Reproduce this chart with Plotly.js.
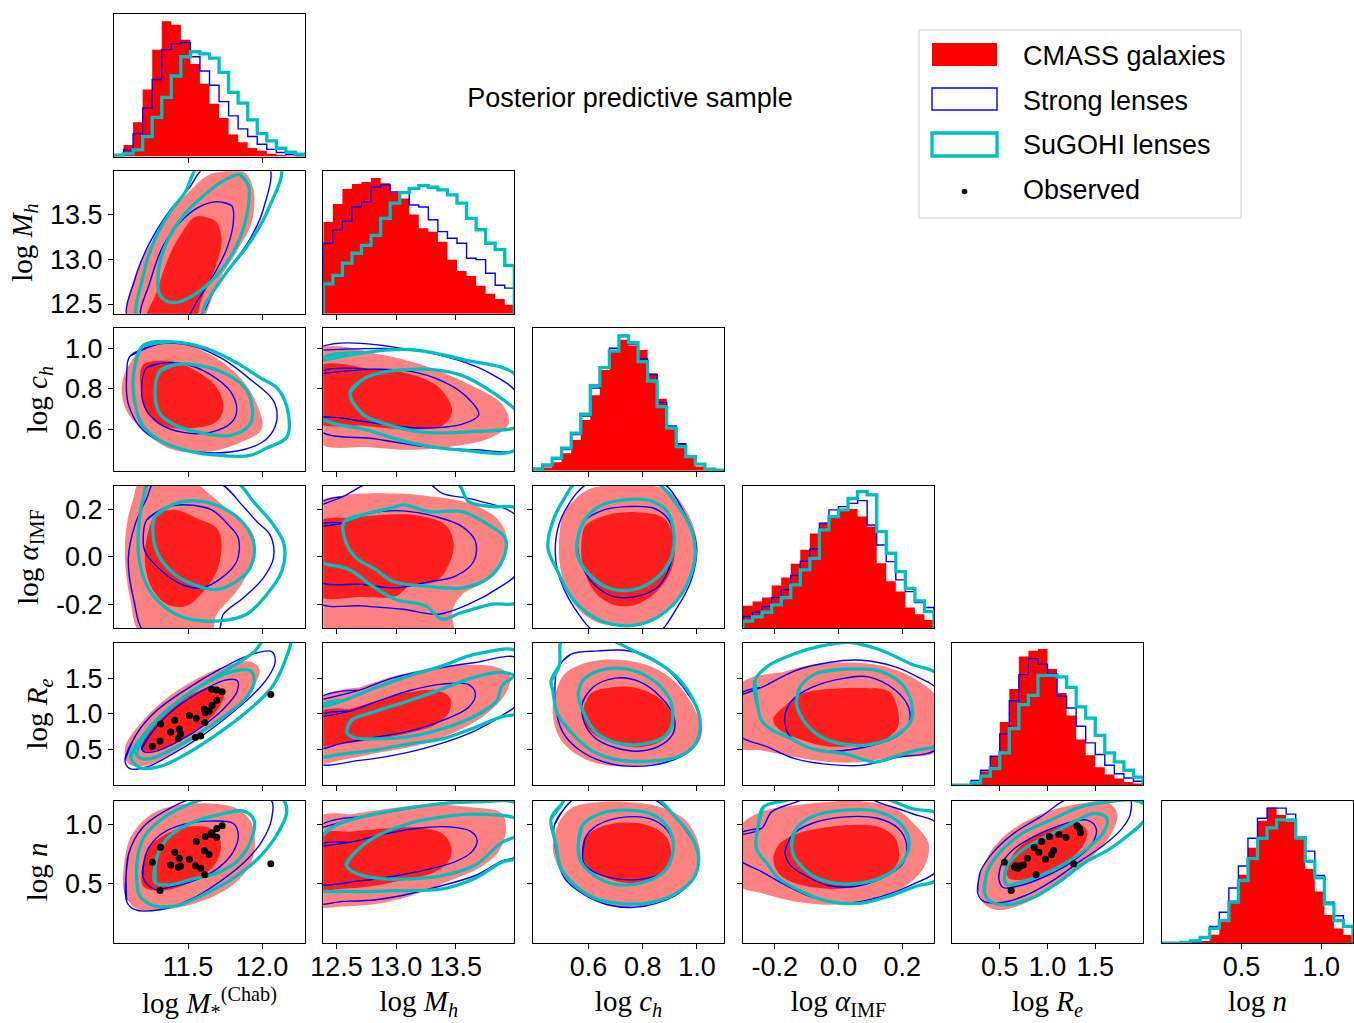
<!DOCTYPE html>
<html><head><meta charset="utf-8">
<script src="https://cdn.plot.ly/plotly-3.0.1.min.js"></script>
<style>html,body{margin:0;padding:0;background:#fff}</style>
</head><body><div id="chart" style="width:1354px;height:1023px"></div>
<script>
// ---------------- DATA ----------------
const paramKeys = ['mstar','mh','ch','alpha','re','n'];
const paramLabels = ['log <i>M</i><sub>*</sub><sup>(Chab)</sup>','log <i>M<sub>h</sub></i>','log <i>c<sub>h</sub></i>','log <i>α</i><sub>IMF</sub>','log <i>R<sub>e</sub></i>','log <i>n</i>'];
const sampleNames = ['CMASS galaxies','Strong lenses','SuGOHI lenses','Observed'];

// tick values / labels per parameter
const ticks_mstar = [11.5, 12.0], tickText_mstar = ['11.5','12.0'];
const ticks_mh = [12.5, 13.0, 13.5], tickText_mh = ['12.5','13.0','13.5'];
const ticks_ch = [0.6, 0.8, 1.0], tickText_ch = ['0.6','0.8','1.0'];
const ticks_alpha = [-0.2, 0.0, 0.2], tickText_alpha = ['-0.2','0.0','0.2'];
const ticks_re = [0.5, 1.0, 1.5], tickText_re = ['0.5','1.0','1.5'];
const ticks_n = [0.5, 1.0], tickText_n = ['0.5','1.0'];

// histogram ranges (20 bins each over the plotted range)
const range_mstar = [11.0, 12.29];
const range_mh = [12.39, 13.99];
const range_ch = [0.395, 1.10];
const range_alpha = [-0.3, 0.3];
const range_re = [0.0, 2.0];
const range_n = [0.0, 1.2];

// 1D histograms (relative heights, % of panel)
const hist_mstar_cmass  = [2,8,24,47,75,95,92.5,82,65,51,37,27,15.5,10,6,4,2,1,0.5,0.3];
const hist_mstar_strong = [0.7,4.7,16,34,54,75,79,80,70,60,50,38.5,28.5,19.4,14,8.6,5,2.8,1.4,0.7];
const hist_mstar_sugohi = [0.7,2,4.7,14,27.5,41.5,56.5,70,73.5,72,69,59,45,37.4,25.7,16,11,5.8,3,1.6];
const hist_mh_cmass  = [64.5,77,87.6,91,92.5,95.3,91.6,85,81,69.6,60,57.5,50.5,37.9,30,26.6,19.6,14,10.3,6.3];
const hist_mh_strong = [49.5,58.9,65,75,78.5,89,90.6,85.5,85,76.4,75,66,57.7,53,49.5,39,38,28.5,20,18];
const hist_mh_sugohi = [21,27,35.5,42.5,48,55,67,77.6,85,88,90,88.8,87,83.4,77.6,67,59,49.5,45,34];
const hist_ch_cmass  = [0,2.3,6,12.4,21.7,35.7,53,70.8,84,92,88,84.8,68.5,50.5,31,19.4,10,3,0.5,0];
const hist_ch_strong = [0.7,3.5,8.2,15,25.5,38.5,58,72,86,95,89,78.5,67.5,48,31.5,19,10.5,4.5,1.5,0.5];
const hist_ch_sugohi = [1.4,4.2,8.9,15.9,26.4,39.7,59.8,72.4,84,94.6,90,76.6,63,45,30,17,10,4.7,1.2,0.5];
const hist_alpha_cmass  = [15.7,18.7,21.5,30,35.5,45.3,55,66.4,74,78.5,83,83.6,78.3,71.3,45.6,33,25.7,14.5,9.8,5.8];
const hist_alpha_strong = [8.2,11.2,15.2,21.5,27,37,47,55.6,73.6,83,85.3,87.6,89.5,72.4,58.4,46.7,33.9,25.7,18,14.5];
const hist_alpha_sugohi = [5,8,11.2,16.4,21.5,30.4,40.9,49,69,78.3,83,91,95.8,93.5,67.8,52.6,39.7,28,19.2,11.7];
const hist_re_cmass  = [0,0,1,9.8,19.9,44.4,67.5,90.4,94.4,95.6,81.5,64.7,49,32,21,12.6,7.5,4.7,2.3,1.2];
const hist_re_strong = [0,0.2,3.3,10.5,20.3,36,59.3,77.6,88.8,85,78,62.4,54.2,41.4,29.7,21.5,14,8,5.1,2.8];
const hist_re_sugohi = [0,0,1.6,6.3,11.7,22.7,39.7,56.5,63,77,77,76,68.7,55,47,35,22.7,16.4,10.5,5.6];
const hist_n_cmass  = [0,0,0,0,1.5,6,17,30,48,67,86,95.3,90,85.4,73,52,36.3,19.8,10.4,5.7];
const hist_n_strong = [0,0,0,0.5,4,11.8,21.7,38.7,54.2,73.6,87.7,94.8,94.8,90.6,73.6,64.6,47.6,28.8,19.3,11.8];
const hist_n_sugohi = [0,0,0.5,1.6,4,10.4,15.8,28.8,44,59.4,73.6,81,86.6,86.6,74,57.5,45.8,27.6,15.8,11.8];

// observed lenses
const obs_mstar = [11.259,11.311,11.435,11.550,11.586,11.450,11.383,11.441,11.315,11.613,11.410,11.556,11.509,11.617,11.642,11.610,11.662,11.694,12.059,11.730,11.694,11.660];
const obs_re    = [0.548,0.620,0.655,0.668,0.690,0.717,0.747,0.790,0.860,0.880,0.910,0.940,0.978,1.020,1.042,1.065,1.120,1.192,1.274,1.310,1.335,1.345];
const obs_n     = [0.682,0.444,0.640,0.652,0.631,0.651,0.659,0.716,0.807,0.576,0.765,0.857,0.707,0.898,0.748,0.780,0.916,0.892,0.670,0.990,0.965,0.930];

// 2D contour outlines [x, y] (outer ~2 sigma, inner ~1 sigma)
const cont_mh_mstar = {
 cmassOuter:[[11.649,13.958],[11.874,13.984],[11.941,13.790],[11.930,13.418],[11.840,13.119],[11.716,12.784],[11.626,12.403],[11.581,12.224],[11.108,12.224],[11.086,12.448],[11.153,12.858],[11.266,13.231],[11.401,13.567],[11.514,13.772]],
 cmassInner:[[11.559,13.485],[11.682,13.436],[11.727,13.231],[11.682,12.896],[11.592,12.560],[11.536,12.299],[11.221,12.299],[11.288,12.635],[11.356,12.970],[11.446,13.268]],
 strongOuter:[[11.626,14.051],[12.043,14.051],[12.009,13.567],[11.919,13.231],[11.795,12.933],[11.671,12.635],[11.559,12.336],[11.097,12.336],[11.142,12.784],[11.243,13.194],[11.367,13.529],[11.502,13.790]],
 strongInner:[[11.694,13.649],[11.795,13.604],[11.806,13.418],[11.761,13.119],[11.671,12.821],[11.559,12.523],[11.480,12.336],[11.187,12.336],[11.243,12.746],[11.333,13.157],[11.446,13.418],[11.570,13.585]],
 sugohiOuter:[[11.581,14.051],[12.122,14.051],[12.043,13.567],[11.919,13.194],[11.761,12.858],[11.626,12.523],[11.559,12.299],[11.164,12.299],[11.198,12.821],[11.277,13.231],[11.378,13.529],[11.480,13.753]],
 sugohiInner:[[11.851,13.951],[11.908,13.828],[11.896,13.492],[11.818,13.119],[11.694,12.821],[11.536,12.597],[11.401,12.515],[11.311,12.597],[11.300,12.858],[11.356,13.194],[11.468,13.492],[11.604,13.716],[11.739,13.884]]
};
const cont_ch_mstar = {
 cmassOuter:[[11.221,1.016],[11.423,1.028],[11.649,0.970],[11.851,0.856],[11.964,0.725],[11.998,0.602],[11.829,0.528],[11.604,0.487],[11.378,0.504],[11.198,0.594],[11.074,0.708],[11.063,0.856]],
 cmassInner:[[11.198,0.921],[11.378,0.938],[11.559,0.888],[11.694,0.807],[11.739,0.708],[11.694,0.639],[11.536,0.607],[11.333,0.618],[11.221,0.684],[11.180,0.807]],
 strongOuter:[[11.108,0.962],[11.311,1.023],[11.536,1.011],[11.739,0.946],[11.919,0.848],[12.077,0.741],[12.099,0.643],[12.032,0.553],[11.874,0.499],[11.581,0.487],[11.378,0.520],[11.198,0.594],[11.097,0.725],[11.086,0.872]],
 strongInner:[[11.221,0.905],[11.345,0.929],[11.491,0.921],[11.649,0.872],[11.784,0.790],[11.829,0.700],[11.795,0.635],[11.649,0.585],[11.468,0.585],[11.311,0.626],[11.209,0.708],[11.187,0.815]],
 sugohiOuter:[[11.198,1.016],[11.401,1.033],[11.626,1.000],[11.829,0.929],[11.986,0.856],[12.110,0.798],[12.178,0.676],[12.167,0.561],[12.032,0.508],[11.919,0.471],[11.716,0.471],[11.491,0.495],[11.311,0.544],[11.187,0.626],[11.135,0.757],[11.135,0.888]],
 sugohiInner:[[11.311,0.888],[11.423,0.921],[11.559,0.918],[11.716,0.888],[11.874,0.815],[11.930,0.725],[11.919,0.626],[11.784,0.569],[11.581,0.585],[11.423,0.618],[11.311,0.676],[11.277,0.774]]
};
const cont_ch_mh = {
 cmassOuter:[[12.331,0.990],[12.831,0.974],[13.247,0.913],[13.608,0.823],[13.886,0.725],[13.942,0.626],[13.803,0.561],[13.525,0.520],[13.164,0.499],[12.775,0.512],[12.331,0.541]],
 cmassInner:[[12.331,0.908],[12.719,0.905],[13.108,0.875],[13.358,0.807],[13.469,0.692],[13.386,0.618],[13.053,0.602],[12.719,0.618],[12.331,0.639]],
 strongOuter:[[12.331,0.990],[13.108,0.995],[13.525,0.941],[13.803,0.872],[14.025,0.766],[14.025,0.508],[13.664,0.499],[13.247,0.515],[12.831,0.553],[12.331,0.607]],
 strongInner:[[12.331,0.872],[12.775,0.897],[13.108,0.888],[13.386,0.839],[13.581,0.766],[13.692,0.672],[13.553,0.626],[13.192,0.607],[12.831,0.630],[12.553,0.656],[12.331,0.679]],
 sugohiOuter:[[12.331,0.934],[12.719,0.979],[13.108,0.995],[13.553,0.946],[14.025,0.856],[14.025,0.508],[13.525,0.499],[13.108,0.536],[12.775,0.594],[12.331,0.676]],
 sugohiInner:[[12.614,0.782],[12.747,0.856],[13.108,0.897],[13.525,0.872],[13.831,0.774],[14.025,0.676],[14.025,0.618],[13.664,0.590],[13.247,0.585],[12.914,0.626],[12.719,0.676]]
};
const cont_alpha_mstar = {
 cmassOuter:[[11.176,0.317],[11.536,0.317],[11.626,0.275],[11.784,0.191],[11.941,0.093],[11.930,-0.032],[11.829,-0.144],[11.694,-0.241],[11.649,-0.325],[11.187,-0.325],[11.108,-0.172],[11.074,-0.004],[11.086,0.135],[11.131,0.247]],
 cmassInner:[[11.288,0.184],[11.423,0.198],[11.559,0.163],[11.694,0.121],[11.727,0.052],[11.694,-0.060],[11.604,-0.144],[11.491,-0.206],[11.356,-0.199],[11.254,-0.130],[11.209,-0.018],[11.232,0.107]],
 strongOuter:[[11.277,0.317],[11.694,0.317],[11.874,0.212],[11.964,0.149],[12.054,0.093],[12.077,-0.004],[12.009,-0.088],[11.874,-0.172],[11.739,-0.241],[11.694,-0.325],[11.221,-0.325],[11.131,-0.172],[11.097,-0.004],[11.142,0.135],[11.221,0.247]],
 strongInner:[[11.221,0.156],[11.345,0.208],[11.502,0.219],[11.660,0.198],[11.773,0.135],[11.840,0.079],[11.829,-0.018],[11.727,-0.088],[11.592,-0.130],[11.457,-0.116],[11.311,-0.053],[11.209,0.024],[11.198,0.093]],
 sugohiOuter:[[11.243,0.317],[11.818,0.317],[11.941,0.233],[12.077,0.135],[12.149,0.052],[12.133,-0.060],[12.032,-0.158],[11.896,-0.241],[11.716,-0.269],[11.514,-0.262],[11.378,-0.227],[11.243,-0.144],[11.176,-0.032],[11.164,0.107],[11.198,0.247]],
 sugohiInner:[[11.277,0.170],[11.401,0.222],[11.559,0.236],[11.739,0.205],[11.874,0.142],[11.946,0.052],[11.919,-0.046],[11.829,-0.102],[11.694,-0.137],[11.536,-0.116],[11.412,-0.074],[11.311,-0.004],[11.266,0.079]]
};
const cont_alpha_mh = {
 cmassOuter:[[12.331,0.219],[12.553,0.258],[12.886,0.268],[13.247,0.258],[13.608,0.226],[13.844,0.163],[13.928,0.079],[13.886,-0.018],[13.747,-0.102],[13.553,-0.158],[13.469,-0.227],[13.469,-0.325],[12.331,-0.325]],
 cmassInner:[[12.331,0.142],[12.608,0.163],[12.886,0.177],[13.192,0.174],[13.414,0.135],[13.483,0.052],[13.428,-0.046],[13.331,-0.102],[13.108,-0.123],[12.997,-0.165],[12.719,-0.169],[12.331,-0.158]],
 strongOuter:[[12.331,0.212],[12.553,0.254],[12.803,0.317],[13.247,0.317],[13.386,0.268],[13.664,0.240],[14.025,0.163],[14.025,-0.060],[13.858,-0.130],[13.608,-0.199],[13.358,-0.241],[13.053,-0.220],[12.719,-0.206],[12.331,-0.185]],
 strongInner:[[12.331,0.128],[12.553,0.142],[12.775,0.184],[13.053,0.194],[13.331,0.170],[13.553,0.128],[13.664,0.066],[13.650,-0.018],[13.497,-0.081],[13.275,-0.105],[12.997,-0.130],[12.719,-0.116],[12.331,-0.095]],
 sugohiOuter:[[12.331,-0.004],[12.331,0.317],[13.497,0.317],[13.608,0.233],[13.803,0.212],[14.025,0.198],[14.025,-0.185],[13.803,-0.199],[13.525,-0.238],[13.386,-0.262],[13.247,-0.206],[12.997,-0.179],[12.803,-0.123],[12.608,-0.053]],
 sugohiInner:[[12.567,0.149],[12.719,0.177],[12.969,0.208],[13.067,0.219],[13.275,0.191],[13.553,0.191],[13.775,0.135],[13.914,0.079],[13.900,-0.004],[13.775,-0.088],[13.553,-0.130],[13.247,-0.123],[12.969,-0.102],[12.831,-0.053],[12.664,-0.004],[12.567,0.079]]
};
const cont_alpha_ch = {
 cmassOuter:[[0.511,0.190],[0.584,0.275],[0.682,0.305],[0.804,0.305],[0.902,0.275],[0.963,0.191],[1.000,0.066],[0.988,-0.060],[0.927,-0.185],[0.841,-0.269],[0.743,-0.290],[0.633,-0.276],[0.547,-0.199],[0.498,-0.060],[0.492,0.079]],
 cmassInner:[[0.590,0.135],[0.670,0.177],[0.780,0.188],[0.878,0.163],[0.914,0.079],[0.912,-0.032],[0.865,-0.130],[0.780,-0.199],[0.694,-0.202],[0.621,-0.144],[0.578,-0.032],[0.574,0.066]],
 strongOuter:[[0.609,0.317],[0.865,0.317],[0.951,0.191],[0.998,0.052],[0.982,-0.088],[0.927,-0.213],[0.847,-0.325],[0.639,-0.325],[0.547,-0.213],[0.486,-0.060],[0.480,0.079],[0.511,0.191]],
 strongInner:[[0.560,0.073],[0.584,0.149],[0.657,0.198],[0.743,0.212],[0.841,0.205],[0.896,0.156],[0.914,0.066],[0.902,-0.032],[0.859,-0.123],[0.780,-0.165],[0.688,-0.165],[0.615,-0.109],[0.572,-0.025]],
 sugohiOuter:[[0.560,0.317],[0.841,0.317],[0.927,0.219],[0.982,0.107],[0.994,0.010],[0.969,-0.102],[0.914,-0.199],[0.829,-0.269],[0.743,-0.290],[0.645,-0.269],[0.547,-0.185],[0.486,-0.060],[0.450,0.038],[0.468,0.149],[0.511,0.247]],
 sugohiInner:[[0.557,0.059],[0.578,0.142],[0.639,0.212],[0.731,0.240],[0.829,0.236],[0.890,0.191],[0.914,0.107],[0.905,-0.004],[0.853,-0.088],[0.768,-0.137],[0.682,-0.134],[0.609,-0.081],[0.562,-0.004]]
};
const cont_re_mstar = {
 cmassOuter:[[11.074,0.534],[11.176,0.860],[11.333,1.186],[11.536,1.466],[11.739,1.661],[11.919,1.736],[11.982,1.628],[11.941,1.372],[11.806,1.070],[11.626,0.767],[11.423,0.488],[11.221,0.278],[11.097,0.302]],
 cmassInner:[[11.180,0.558],[11.266,0.860],[11.401,1.116],[11.559,1.312],[11.694,1.382],[11.743,1.279],[11.694,1.047],[11.581,0.814],[11.423,0.604],[11.288,0.488],[11.198,0.488]],
 strongOuter:[[11.074,0.348],[11.153,0.721],[11.288,1.047],[11.491,1.349],[11.716,1.628],[11.919,1.829],[12.065,1.875],[12.088,1.722],[12.032,1.489],[11.919,1.233],[11.761,0.953],[11.581,0.674],[11.378,0.418],[11.221,0.255],[11.108,0.232]],
 strongInner:[[11.187,0.511],[11.266,0.767],[11.423,1.093],[11.604,1.335],[11.750,1.475],[11.833,1.466],[11.829,1.303],[11.739,1.070],[11.604,0.837],[11.446,0.628],[11.288,0.479],[11.209,0.465]],
 sugohiOuter:[[11.113,0.395],[11.198,0.697],[11.333,1.009],[11.536,1.326],[11.750,1.605],[11.941,1.861],[12.032,2.071],[12.189,2.071],[12.155,1.745],[12.065,1.372],[11.919,1.070],[11.716,0.744],[11.491,0.441],[11.311,0.264],[11.176,0.246]],
 sugohiInner:[[11.153,0.465],[11.209,0.697],[11.311,0.953],[11.468,1.233],[11.649,1.466],[11.818,1.605],[11.923,1.605],[11.946,1.442],[11.885,1.209],[11.750,0.977],[11.581,0.730],[11.401,0.511],[11.243,0.372],[11.164,0.395]]
};
const cont_re_mh = {
 cmassOuter:[[12.331,1.186],[12.692,1.372],[12.997,1.535],[13.275,1.638],[13.553,1.689],[13.831,1.661],[13.956,1.535],[13.914,1.279],[13.775,1.023],[13.553,0.791],[13.247,0.590],[12.886,0.465],[12.553,0.358],[12.331,0.325]],
 cmassInner:[[12.331,1.009],[12.608,1.070],[12.858,1.196],[13.108,1.303],[13.358,1.326],[13.456,1.209],[13.442,1.023],[13.331,0.851],[13.081,0.721],[12.803,0.637],[12.553,0.581],[12.331,0.572]],
 strongOuter:[[12.331,1.186],[12.692,1.335],[12.969,1.503],[13.386,1.652],[13.664,1.722],[14.025,1.777],[14.025,1.163],[13.886,0.977],[13.664,0.767],[13.386,0.590],[13.108,0.465],[12.692,0.348],[12.331,0.325]],
 strongInner:[[12.331,0.953],[12.608,1.037],[12.858,1.186],[13.108,1.326],[13.386,1.419],[13.608,1.410],[13.664,1.279],[13.608,1.093],[13.386,0.907],[13.108,0.758],[12.831,0.674],[12.553,0.590],[12.331,0.525]],
 sugohiOuter:[[12.331,1.070],[12.553,1.186],[12.831,1.372],[13.108,1.535],[13.386,1.675],[13.664,1.838],[14.025,1.866],[14.025,1.023],[13.886,0.963],[13.664,0.814],[13.386,0.651],[13.108,0.581],[12.831,0.497],[12.553,0.441],[12.331,0.418]],
 sugohiInner:[[12.586,0.744],[12.622,0.907],[12.831,1.037],[13.108,1.186],[13.386,1.349],[13.664,1.521],[13.886,1.582],[13.983,1.535],[13.886,1.396],[13.844,1.186],[13.692,1.000],[13.386,0.790],[13.108,0.683],[12.831,0.651],[12.636,0.674]]
};
const cont_re_ch = {
 cmassOuter:[[0.468,1.140],[0.511,1.559],[0.609,1.736],[0.731,1.754],[0.853,1.628],[0.939,1.372],[0.994,1.047],[1.018,0.721],[0.988,0.511],[0.902,0.348],[0.792,0.274],[0.670,0.278],[0.572,0.395],[0.492,0.674]],
 cmassInner:[[0.578,1.047],[0.609,1.289],[0.682,1.372],[0.768,1.372],[0.853,1.242],[0.905,1.023],[0.908,0.791],[0.872,0.628],[0.792,0.534],[0.706,0.572],[0.621,0.711],[0.584,0.870]],
 strongOuter:[[0.486,1.652],[0.535,1.838],[0.633,1.885],[0.731,1.894],[0.817,1.815],[0.902,1.582],[0.963,1.303],[1.006,1.023],[1.012,0.721],[0.976,0.488],[0.890,0.325],[0.768,0.264],[0.657,0.325],[0.560,0.511],[0.505,0.744],[0.480,1.047],[0.476,1.372]],
 strongInner:[[0.578,1.163],[0.615,1.372],[0.700,1.503],[0.786,1.456],[0.865,1.242],[0.914,0.977],[0.914,0.744],[0.872,0.572],[0.792,0.479],[0.700,0.525],[0.621,0.674],[0.584,0.884]],
 sugohiOuter:[[0.462,1.466],[0.492,1.675],[0.505,2.071],[0.657,2.071],[0.755,1.908],[0.865,1.698],[0.939,1.466],[0.988,1.186],[1.012,0.907],[0.994,0.581],[0.927,0.395],[0.829,0.339],[0.719,0.348],[0.621,0.465],[0.547,0.697],[0.486,1.000],[0.468,1.326]],
 sugohiInner:[[0.562,1.279],[0.578,1.466],[0.645,1.615],[0.743,1.628],[0.841,1.466],[0.902,1.186],[0.908,0.837],[0.878,0.674],[0.792,0.572],[0.706,0.590],[0.633,0.721],[0.590,0.953]]
};
const cont_re_alpha = {
 cmassOuter:[[-0.315,1.396],[-0.179,1.582],[-0.074,1.698],[0.031,1.722],[0.136,1.675],[0.241,1.489],[0.314,1.186],[0.314,0.488],[0.178,0.395],[0.073,0.325],[-0.032,0.325],[-0.137,0.395],[-0.242,0.488],[-0.315,0.534]],
 cmassInner:[[-0.205,0.930],[-0.173,1.093],[-0.116,1.279],[-0.032,1.349],[0.073,1.363],[0.157,1.317],[0.183,1.116],[0.188,0.837],[0.157,0.674],[0.073,0.572],[-0.032,0.544],[-0.126,0.651],[-0.189,0.791]],
 strongOuter:[[-0.315,1.256],[-0.242,1.372],[-0.137,1.605],[-0.032,1.722],[0.073,1.754],[0.178,1.661],[0.251,1.512],[0.314,1.326],[0.314,0.534],[0.178,0.385],[0.073,0.278],[-0.032,0.292],[-0.137,0.372],[-0.221,0.534],[-0.315,0.721]],
 strongInner:[[-0.168,1.000],[-0.147,1.186],[-0.084,1.372],[0.021,1.503],[0.094,1.521],[0.178,1.335],[0.220,1.093],[0.220,0.851],[0.178,0.674],[0.073,0.525],[-0.032,0.479],[-0.116,0.572],[-0.158,0.721]],
 sugohiOuter:[[-0.252,1.070],[-0.263,1.466],[-0.221,1.675],[-0.137,1.847],[-0.053,1.954],[0.031,2.006],[0.125,1.908],[0.230,1.698],[0.314,1.535],[0.314,0.590],[0.241,0.488],[0.178,0.404],[0.115,0.325],[0.021,0.441],[-0.084,0.511],[-0.158,0.674],[-0.205,0.767],[-0.242,0.907]],
 sugohiInner:[[-0.132,1.140],[-0.121,1.372],[-0.074,1.559],[0.021,1.628],[0.125,1.605],[0.199,1.419],[0.230,1.140],[0.228,0.907],[0.188,0.721],[0.104,0.572],[0.021,0.572],[-0.053,0.674],[-0.100,0.851]]
};
const cont_n_mstar = {
 cmassOuter:[[11.063,0.603],[11.108,0.883],[11.243,1.078],[11.423,1.162],[11.649,1.176],[11.829,1.134],[11.919,1.036],[11.953,0.855],[11.919,0.659],[11.829,0.520],[11.694,0.408],[11.514,0.324],[11.333,0.282],[11.153,0.291],[11.074,0.408]],
 cmassInner:[[11.187,0.590],[11.232,0.799],[11.333,0.905],[11.491,0.980],[11.649,0.966],[11.721,0.855],[11.694,0.687],[11.604,0.570],[11.468,0.486],[11.311,0.441],[11.198,0.478]],
 strongOuter:[[11.086,0.352],[11.097,0.743],[11.198,0.980],[11.356,1.120],[11.536,1.218],[12.054,1.218],[12.065,1.050],[11.998,0.855],[11.885,0.688],[11.716,0.520],[11.514,0.366],[11.311,0.282],[11.142,0.282]],
 strongInner:[[11.194,0.562],[11.221,0.771],[11.311,0.911],[11.468,1.000],[11.649,1.028],[11.806,1.008],[11.840,0.911],[11.806,0.771],[11.716,0.645],[11.592,0.553],[11.423,0.486],[11.266,0.458]],
 sugohiOuter:[[11.164,0.422],[11.153,0.659],[11.198,0.883],[11.311,1.036],[11.491,1.162],[11.626,1.218],[12.133,1.218],[12.167,1.106],[12.099,0.911],[11.975,0.715],[11.806,0.548],[11.626,0.422],[11.446,0.324],[11.288,0.310],[11.198,0.366]],
 sugohiInner:[[11.277,0.514],[11.288,0.715],[11.356,0.877],[11.514,1.008],[11.694,1.078],[11.874,1.112],[11.946,1.036],[11.930,0.883],[11.840,0.701],[11.694,0.590],[11.536,0.542],[11.378,0.492]]
};
const cont_n_mh = {
 cmassOuter:[[12.331,1.050],[12.608,1.083],[12.942,1.134],[13.275,1.167],[13.608,1.147],[13.886,1.092],[13.919,0.938],[13.858,0.771],[13.692,0.631],[13.469,0.534],[13.192,0.422],[12.886,0.338],[12.553,0.310],[12.331,0.324]],
 cmassInner:[[12.331,0.905],[12.608,0.938],[12.914,0.966],[13.192,0.972],[13.386,0.924],[13.464,0.799],[13.428,0.673],[13.303,0.590],[13.108,0.542],[12.831,0.486],[12.553,0.458],[12.331,0.464]],
 strongOuter:[[12.331,0.961],[12.719,1.064],[13.108,1.134],[13.469,1.190],[14.025,1.218],[14.025,0.743],[13.886,0.693],[13.664,0.570],[13.386,0.486],[13.108,0.414],[12.831,0.366],[12.553,0.352],[12.331,0.347]],
 strongInner:[[12.331,0.813],[12.608,0.849],[12.886,0.916],[13.164,0.966],[13.442,0.980],[13.622,0.944],[13.678,0.869],[13.636,0.771],[13.497,0.687],[13.247,0.617],[12.969,0.562],[12.692,0.525],[12.331,0.514]],
 sugohiOuter:[[12.331,0.849],[12.497,0.994],[12.775,1.078],[13.108,1.140],[13.386,1.176],[13.664,1.190],[14.025,1.162],[14.025,0.729],[13.886,0.682],[13.664,0.548],[13.386,0.458],[12.969,0.442],[12.608,0.436],[12.331,0.470]],
 sugohiInner:[[12.581,0.659],[12.636,0.743],[12.803,0.883],[13.108,1.008],[13.386,1.064],[13.664,1.086],[14.025,1.036],[14.025,0.916],[13.886,0.849],[13.664,0.659],[13.386,0.570],[13.108,0.542],[12.831,0.548],[12.636,0.603]]
};
const cont_n_ch = {
 cmassOuter:[[0.468,0.799],[0.486,0.994],[0.535,1.134],[0.621,1.184],[0.743,1.190],[0.865,1.148],[0.951,1.050],[1.000,0.883],[1.012,0.701],[0.988,0.548],[0.914,0.408],[0.817,0.324],[0.694,0.310],[0.584,0.408],[0.511,0.548]],
 cmassInner:[[0.578,0.771],[0.587,0.883],[0.645,0.980],[0.743,1.017],[0.835,0.980],[0.890,0.883],[0.905,0.743],[0.880,0.603],[0.804,0.514],[0.706,0.520],[0.621,0.603],[0.584,0.687]],
 strongOuter:[[0.474,0.994],[0.511,1.134],[0.560,1.232],[0.817,1.232],[0.902,1.106],[0.963,0.938],[1.006,0.757],[0.994,0.575],[0.939,0.430],[0.853,0.338],[0.768,0.302],[0.670,0.324],[0.584,0.408],[0.511,0.548],[0.480,0.771]],
 strongInner:[[0.578,0.715],[0.587,0.883],[0.633,0.994],[0.743,1.064],[0.841,1.036],[0.902,0.911],[0.911,0.743],[0.880,0.603],[0.804,0.542],[0.706,0.542],[0.621,0.598],[0.587,0.659]],
 sugohiOuter:[[0.462,1.050],[0.498,1.162],[0.523,1.232],[0.841,1.232],[0.914,1.078],[0.976,0.911],[1.006,0.729],[0.988,0.548],[0.914,0.408],[0.817,0.338],[0.706,0.338],[0.621,0.380],[0.547,0.492],[0.498,0.631],[0.480,0.827]],
 sugohiInner:[[0.562,0.827],[0.578,0.994],[0.645,1.092],[0.743,1.120],[0.841,1.078],[0.902,0.938],[0.911,0.757],[0.878,0.603],[0.792,0.506],[0.694,0.498],[0.621,0.570],[0.572,0.687]]
};
const cont_n_alpha = {
 cmassOuter:[[-0.315,0.966],[-0.242,1.106],[-0.137,1.162],[-0.032,1.190],[0.073,1.195],[0.178,1.134],[0.241,0.994],[0.283,0.841],[0.272,0.659],[0.230,0.520],[0.157,0.408],[0.073,0.347],[-0.032,0.324],[-0.137,0.352],[-0.242,0.422],[-0.315,0.492]],
 cmassInner:[[-0.205,0.715],[-0.189,0.827],[-0.137,0.916],[-0.063,0.966],[0.021,0.994],[0.125,0.980],[0.178,0.883],[0.190,0.715],[0.157,0.575],[0.073,0.486],[-0.032,0.458],[-0.137,0.506],[-0.189,0.590]],
 strongOuter:[[-0.315,0.911],[-0.242,0.966],[-0.210,1.106],[-0.147,1.176],[-0.074,1.232],[0.073,1.232],[0.136,1.176],[0.230,1.092],[0.314,0.994],[0.314,0.631],[0.230,0.491],[0.136,0.394],[0.031,0.338],[-0.074,0.380],[-0.168,0.492],[-0.242,0.603],[-0.315,0.715]],
 strongInner:[[-0.168,0.771],[-0.145,0.911],[-0.084,1.008],[0.021,1.064],[0.125,1.050],[0.188,0.966],[0.214,0.827],[0.199,0.659],[0.136,0.548],[0.052,0.478],[-0.032,0.486],[-0.105,0.570],[-0.152,0.659]],
 sugohiOuter:[[-0.252,0.994],[-0.236,1.148],[-0.179,1.195],[-0.084,1.232],[0.125,1.232],[0.230,1.134],[0.314,1.078],[0.314,0.548],[0.241,0.478],[0.157,0.394],[0.073,0.338],[-0.032,0.352],[-0.116,0.436],[-0.189,0.548],[-0.221,0.659],[-0.258,0.799]],
 sugohiInner:[[-0.147,0.827],[-0.139,0.938],[-0.084,1.064],[0.021,1.120],[0.125,1.106],[0.199,0.994],[0.222,0.827],[0.193,0.659],[0.125,0.542],[0.021,0.498],[-0.063,0.542],[-0.116,0.645],[-0.142,0.743]]
};
const cont_n_re = {
 cmassOuter:[[0.280,0.520],[0.403,0.771],[0.647,0.966],[0.997,1.106],[1.346,1.176],[1.626,1.190],[1.731,1.092],[1.661,0.911],[1.486,0.743],[1.241,0.576],[0.961,0.422],[0.682,0.310],[0.455,0.282],[0.316,0.352]],
 cmassInner:[[0.571,0.617],[0.647,0.757],[0.857,0.905],[1.102,0.980],[1.329,1.008],[1.416,0.938],[1.364,0.813],[1.224,0.701],[0.997,0.598],[0.752,0.534],[0.595,0.548]],
 strongOuter:[[0.270,0.422],[0.298,0.603],[0.438,0.771],[0.647,0.925],[0.927,1.064],[1.259,1.232],[1.853,1.232],[1.864,1.078],[1.766,0.952],[1.591,0.827],[1.346,0.693],[1.067,0.534],[0.787,0.408],[0.543,0.346],[0.333,0.352]],
 strongInner:[[0.490,0.548],[0.515,0.659],[0.647,0.793],[0.892,0.911],[1.172,1.003],[1.416,1.036],[1.510,0.966],[1.458,0.827],[1.259,0.687],[0.997,0.570],[0.717,0.486],[0.536,0.469]],
 sugohiOuter:[[0.340,0.422],[0.368,0.603],[0.508,0.771],[0.735,0.925],[1.032,1.036],[1.346,1.148],[1.626,1.190],[1.906,1.204],[2.045,1.148],[2.045,1.064],[1.871,0.925],[1.661,0.799],[1.381,0.673],[1.102,0.506],[0.857,0.386],[0.578,0.324],[0.403,0.352]],
 sugohiInner:[[0.550,0.542],[0.578,0.653],[0.752,0.793],[1.032,0.916],[1.311,1.036],[1.486,1.092],[1.619,1.056],[1.591,0.938],[1.416,0.799],[1.172,0.665],[0.927,0.570],[0.682,0.506],[0.578,0.492]]
};

// ---------------- BUILD ----------------
const W = 1354, H = 1023;
const colLeft = [114, 323.3, 533, 743, 952, 1162], panelW = 191;
const rowTop = [14, 171.3, 328.3, 485.7, 642.7, 800.7], panelH = 142.5;
const RED = '#ff0000', RED_IN = '#fe1e1e', RED_OUT = '#ff8282', BLUE = '#0000ff', CYAN = '#00bfbf';
const TICKFONT = {family:'Liberation Sans, Arial, sans-serif', size:27, color:'#000'};
const LABFONT = {family:'Liberation Serif, Times New Roman, serif', size:29, color:'#000'};

const ranges = {mstar:range_mstar, mh:range_mh, ch:range_ch, alpha:range_alpha, re:range_re, n:range_n};
const tickVals = {mstar:ticks_mstar, mh:ticks_mh, ch:ticks_ch, alpha:ticks_alpha, re:ticks_re, n:ticks_n};
const tickTexts = {mstar:tickText_mstar, mh:tickText_mh, ch:tickText_ch, alpha:tickText_alpha, re:tickText_re, n:tickText_n};
const hists = {
  mstar:[hist_mstar_cmass,hist_mstar_strong,hist_mstar_sugohi],
  mh:[hist_mh_cmass,hist_mh_strong,hist_mh_sugohi],
  ch:[hist_ch_cmass,hist_ch_strong,hist_ch_sugohi],
  alpha:[hist_alpha_cmass,hist_alpha_strong,hist_alpha_sugohi],
  re:[hist_re_cmass,hist_re_strong,hist_re_sugohi],
  n:[hist_n_cmass,hist_n_strong,hist_n_sugohi]
};
const contours = {
  '1_0':cont_mh_mstar, '2_0':cont_ch_mstar, '2_1':cont_ch_mh,
  '3_0':cont_alpha_mstar, '3_1':cont_alpha_mh, '3_2':cont_alpha_ch,
  '4_0':cont_re_mstar, '4_1':cont_re_mh, '4_2':cont_re_ch, '4_3':cont_re_alpha,
  '5_0':cont_n_mstar, '5_1':cont_n_mh, '5_2':cont_n_ch, '5_3':cont_n_alpha, '5_4':cont_n_re
};

const layout = {
  width: W, height: H,
  margin: {l:0, r:0, t:0, b:0},
  paper_bgcolor: '#fff', plot_bgcolor: '#fff',
  showlegend: false,
  title: {text:'Posterior predictive sample', x: 630/W, y: 1-98/H, xanchor:'center', yanchor:'middle',
          font:{family:'Liberation Sans, Arial, sans-serif', size:27, color:'#000'}},
  shapes: [], annotations: []
};
const traces = [];
const axId = {};
let k = 0;
for (let r = 0; r < 6; r++) {
  for (let c = 0; c <= r; c++) {
    k++;
    const sfx = (k === 1 ? '' : String(k));
    axId[r + '_' + c] = sfx;
    const xk = paramKeys[c], yk = paramKeys[r];
    const common = {showline:true, mirror:true, linecolor:'#000', linewidth:1, showgrid:false, zeroline:false,
                    ticks:'outside', ticklen:5, tickwidth:1, tickcolor:'#000', tickfont:TICKFONT, fixedrange:true, automargin:false};
    const xa = Object.assign({}, common, {
      domain:[colLeft[c]/W, (colLeft[c]+panelW)/W], anchor:'y'+sfx, range: ranges[xk],
      tickmode:'array', tickvals: tickVals[xk], ticktext: tickTexts[xk], showticklabels: r === 5, ticklabelstandoff: -6
    });
    if (r === 5) xa.title = {text: paramLabels[c], font: LABFONT, standoff: c === 0 ? 15 : 10};
    const ya = Object.assign({}, common, {
      domain:[1-(rowTop[r]+panelH)/H, 1-rowTop[r]/H], anchor:'x'+sfx
    });
    if (r === c) {
      Object.assign(ya, {range:[0,100], ticks:'', showticklabels:false});
    } else {
      Object.assign(ya, {range: ranges[yk], tickmode:'array', tickvals: tickVals[yk], ticktext: tickTexts[yk], showticklabels: c === 0});
      if (c === 0) ya.title = {text: paramLabels[r], font: LABFONT, standoff: 8};
    }
    layout['xaxis'+sfx] = xa;
    layout['yaxis'+sfx] = ya;

    if (r === c) {
      // histograms: filled step for CMASS, open steps for the lens samples
      const rg = ranges[xk], nb = hists[xk][0].length, bw = (rg[1]-rg[0])/nb;
      const edges = [rg[0]].concat(hists[xk][0].map((_, i) => rg[0] + (i + 1) * bw));
      const stepPath = vals => {
        const sx = [edges[0]], sy = [0];
        vals.forEach((v, i) => { sx.push(edges[i]); sy.push(v); });
        sx.push(edges[nb]); sy.push(vals[nb-1]);
        sx.push(edges[nb]); sy.push(0);
        return {x:sx, y:sy};
      };
      const f = stepPath(hists[xk][0]);
      traces.push({type:'scatter', mode:'lines', x:f.x, y:f.y, fill:'toself', fillcolor:RED,
                   line:{color:RED, width:0, shape:'hv'}, xaxis:'x'+sfx, yaxis:'y'+sfx, hoverinfo:'skip', name:sampleNames[0]});
      [[hists[xk][1], BLUE, 1.4, sampleNames[1]], [hists[xk][2], CYAN, 3.3, sampleNames[2]]].forEach(([vals, col, lw, nm]) => {
        const s = stepPath(vals);
        traces.push({type:'scatter', mode:'lines', x:s.x, y:s.y, line:{color:col, width:lw, shape:'hv'},
                     xaxis:'x'+sfx, yaxis:'y'+sfx, hoverinfo:'skip', name:nm});
      });
    } else {
      const cd = contours[r + '_' + c];
      const closed = pts => { const p = pts.concat([pts[0], pts[1]]); return {x:p.map(q => q[0]), y:p.map(q => q[1])}; };
      const addFill = (pts, col, nm) => { const d = closed(pts);
        traces.push({type:'scatter', mode:'lines', x:d.x, y:d.y, fill:'toself', fillcolor:col,
          line:{width:0, color:col, shape:'spline', smoothing:1}, xaxis:'x'+sfx, yaxis:'y'+sfx, hoverinfo:'skip', name:nm}); };
      const addLine = (pts, col, lw, nm) => { const d = closed(pts);
        traces.push({type:'scatter', mode:'lines', x:d.x, y:d.y,
          line:{width:lw, color:col, shape:'spline', smoothing:1}, xaxis:'x'+sfx, yaxis:'y'+sfx, hoverinfo:'skip', name:nm}); };
      addFill(cd.cmassOuter, RED_OUT, sampleNames[0]);
      addFill(cd.cmassInner, RED_IN, sampleNames[0]);
      addLine(cd.strongOuter, BLUE, 1.4, sampleNames[1]);
      addLine(cd.strongInner, BLUE, 1.4, sampleNames[1]);
      addLine(cd.sugohiOuter, CYAN, 3.3, sampleNames[2]);
      addLine(cd.sugohiInner, CYAN, 3.3, sampleNames[2]);
    }
  }
}
// observed lenses
[['4_0', obs_mstar, obs_re], ['5_0', obs_mstar, obs_n], ['5_4', obs_re, obs_n]].forEach(([key, xs, ys]) => {
  const sfx = axId[key];
  traces.push({type:'scatter', mode:'markers', x:xs, y:ys, marker:{color:'#000', size:7},
               xaxis:'x'+sfx, yaxis:'y'+sfx, hoverinfo:'skip', name:sampleNames[3]});
});

// legend box (drawn by hand to match matplotlib legend)
const px = v => v / W, py = v => 1 - v / H;
layout.shapes.push({type:'rect', xref:'paper', yref:'paper', x0:px(919), x1:px(1241), y0:py(218), y1:py(30),
                    line:{color:'#cccccc', width:1}, fillcolor:'rgba(255,255,255,0.8)', layer:'above'});
layout.shapes.push({type:'rect', xref:'paper', yref:'paper', x0:px(932), x1:px(997), y0:py(66), y1:py(43),
                    line:{width:0}, fillcolor:RED, layer:'above'});
layout.shapes.push({type:'rect', xref:'paper', yref:'paper', x0:px(932), x1:px(997), y0:py(110), y1:py(88),
                    line:{width:1.4, color:BLUE}, fillcolor:'rgba(0,0,0,0)', layer:'above'});
layout.shapes.push({type:'rect', xref:'paper', yref:'paper', x0:px(932), x1:px(997), y0:py(156), y1:py(133),
                    line:{width:3.3, color:CYAN}, fillcolor:'rgba(0,0,0,0)', layer:'above'});
layout.shapes.push({type:'circle', xref:'paper', yref:'paper', xsizemode:'pixel', ysizemode:'pixel',
                    xanchor:px(964.5), yanchor:py(191.5), x0:-2.8, x1:2.8, y0:-2.8, y1:2.8,
                    line:{width:0}, fillcolor:'#000', layer:'above'});
[[56.5, sampleNames[0]], [100.5, sampleNames[1]], [145, sampleNames[2]], [190, sampleNames[3]]].forEach(([yy, txt]) => {
  layout.annotations.push({xref:'paper', yref:'paper', x:px(1021), y:py(yy), xanchor:'left', yanchor:'middle',
    text:txt, showarrow:false, font:{family:'Liberation Sans, Arial, sans-serif', size:27, color:'#000'}});
});

Plotly.newPlot('chart', traces, layout, {staticPlot:true, displayModeBar:false});
</script></body></html>
